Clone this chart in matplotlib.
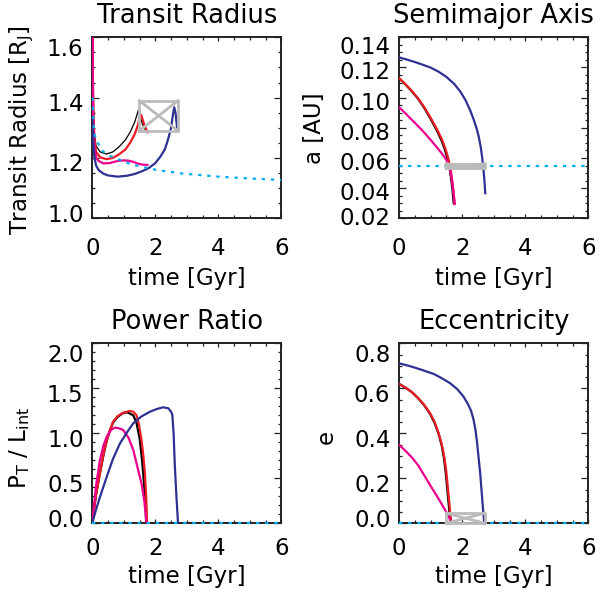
import matplotlib
matplotlib.use("Agg")
import matplotlib.pyplot as plt
from matplotlib.ticker import MultipleLocator
from matplotlib.transforms import ScaledTranslation

# ---- Transit radius [R_J] vs time [Gyr]
tR_black = [0.012, 0.02, 0.04, 0.07, 0.12, 0.25, 0.45, 0.65, 0.85, 1.05, 1.2, 1.35, 1.46, 1.52, 1.6, 1.7]
R_black = [1.65, 1.46, 1.35, 1.28, 1.24, 1.22, 1.213, 1.22, 1.237, 1.26, 1.285, 1.32, 1.358, 1.335, 1.31, 1.29]
tR_red = [0.012, 0.02, 0.04, 0.07, 0.12, 0.25, 0.45, 0.65, 0.85, 1.05, 1.2, 1.35, 1.45, 1.52, 1.56, 1.65, 1.75]
R_red = [1.65, 1.45, 1.33, 1.26, 1.22, 1.202, 1.196, 1.2, 1.212, 1.228, 1.25, 1.28, 1.31, 1.345, 1.34, 1.31, 1.285]
tR_pink = [0.015, 0.02, 0.03, 0.05, 0.08, 0.13, 0.2, 0.35, 0.55, 0.8, 1.0, 1.15, 1.3, 1.45, 1.6, 1.75]
R_pink = [1.65, 1.45, 1.33, 1.265, 1.225, 1.2, 1.19, 1.182, 1.183, 1.19, 1.192, 1.191, 1.187, 1.181, 1.178, 1.177]
tR_blue = [0.0, 0.03, 0.07, 0.12, 0.2, 0.35, 0.5, 0.8, 1.1, 1.35, 1.6, 1.8, 2.0, 2.15, 2.3, 2.4, 2.5, 2.56, 2.6, 2.64, 2.67, 2.7]
R_blue = [1.33, 1.25, 1.2, 1.175, 1.16, 1.148, 1.142, 1.138, 1.141, 1.147, 1.157, 1.167, 1.183, 1.203, 1.228, 1.26, 1.3, 1.345, 1.368, 1.35, 1.32, 1.293]
tR_cyan = [0.01, 0.03, 0.06, 0.14, 0.24, 0.35, 0.6, 1.0, 1.3, 2.0, 2.8, 4.0, 5.0, 6.0]
R_cyan = [1.40, 1.34, 1.28, 1.26, 1.237, 1.221, 1.205, 1.188, 1.177, 1.161, 1.149, 1.138, 1.132, 1.127]
boxR_t = [1.49, 2.72]
boxR_y = [1.29, 1.39]

# ---- Semimajor axis [AU]
ta_black = [0.0, 0.2, 0.4, 0.6, 0.8, 1.0, 1.2, 1.35, 1.45, 1.53, 1.6, 1.65, 1.69, 1.73]
a_black = [0.1128, 0.1087, 0.1042, 0.0992, 0.0930, 0.0858, 0.0780, 0.0712, 0.0655, 0.0595, 0.0530, 0.0460, 0.0390, 0.0300]
ta_red = [0.0, 0.2, 0.4, 0.6, 0.8, 1.0, 1.2, 1.35, 1.47, 1.56, 1.63, 1.68, 1.72, 1.76]
a_red = [0.1128, 0.1088, 0.1044, 0.0995, 0.0935, 0.0865, 0.0790, 0.0725, 0.0660, 0.0595, 0.0530, 0.0450, 0.0380, 0.0295]
ta_pink = [0.0, 0.2, 0.4, 0.6, 0.8, 1.0, 1.2, 1.35, 1.47, 1.55, 1.61, 1.66, 1.70, 1.73, 1.76]
a_pink = [0.0936, 0.0895, 0.0853, 0.0811, 0.0767, 0.0719, 0.0669, 0.0630, 0.0596, 0.0565, 0.0525, 0.0470, 0.0410, 0.0360, 0.0295]
ta_blue = [0.0, 0.25, 0.5, 0.75, 1.0, 1.25, 1.5, 1.75, 1.94, 2.1, 2.25, 2.35, 2.45, 2.52, 2.58, 2.63, 2.67, 2.70, 2.73]
a_blue = [0.1267, 0.1252, 0.1236, 0.1218, 0.1199, 0.1172, 0.1137, 0.1090, 0.1040, 0.0985, 0.0917, 0.0862, 0.0800, 0.0745, 0.0680, 0.0608, 0.0530, 0.0460, 0.0366]
ta_cyan = [0.0, 6.0]
a_cyan = [0.055, 0.055]
boxa_t = [1.48, 2.73]
boxa_y = [0.0535, 0.0562]

# ---- Power ratio P_T / L_int
tP_black = [0.0, 0.06, 0.12, 0.24, 0.35, 0.46, 0.56, 0.66, 0.8, 0.95, 1.1, 1.3, 1.4, 1.5, 1.58, 1.64, 1.69, 1.71]
P_black = [0.0, 0.17, 0.32, 0.55, 0.75, 0.92, 1.03, 1.12, 1.18, 1.22, 1.235, 1.2, 1.12, 0.95, 0.7, 0.45, 0.2, 0.0]
tP_red = [0.0, 0.06, 0.12, 0.24, 0.35, 0.46, 0.56, 0.66, 0.8, 0.98, 1.19, 1.3, 1.4, 1.48, 1.56, 1.62, 1.67, 1.71, 1.74]
P_red = [0.0, 0.17, 0.32, 0.556, 0.76, 0.926, 1.04, 1.129, 1.19, 1.229, 1.248, 1.24, 1.203, 1.1, 0.926, 0.75, 0.556, 0.3, 0.0]
tP_pink = [0.0, 0.06, 0.12, 0.24, 0.35, 0.46, 0.6, 0.72, 0.85, 0.98, 1.15, 1.3, 1.45, 1.56, 1.65, 1.72]
P_pink = [0.0, 0.22, 0.42, 0.70, 0.86, 0.963, 1.04, 1.063, 1.055, 1.037, 0.95, 0.815, 0.6, 0.444, 0.25, 0.0]
tP_blue = [0.0, 0.1, 0.25, 0.46, 0.65, 0.88, 1.1, 1.3, 1.55, 1.83, 2.05, 2.25, 2.41, 2.5, 2.54, 2.58, 2.62, 2.67, 2.72]
P_blue = [0.0, 0.13, 0.3, 0.518, 0.71, 0.889, 1.01, 1.111, 1.185, 1.24, 1.27, 1.289, 1.278, 1.24, 1.203, 1.0, 0.63, 0.3, 0.0]
tP_cyan = [0.0, 6.0]
P_cyan = [0.0, 0.0]

# ---- Eccentricity
te_black = [0.0, 0.2, 0.4, 0.6, 0.8, 0.98, 1.12, 1.25, 1.35, 1.42, 1.48, 1.53, 1.57, 1.61, 1.63]
e_black = [0.619, 0.603, 0.583, 0.556, 0.523, 0.486, 0.447, 0.397, 0.345, 0.290, 0.220, 0.145, 0.085, 0.025, 0.0]
te_red = [0.0, 0.2, 0.4, 0.6, 0.8, 0.98, 1.12, 1.25, 1.35, 1.43, 1.49, 1.54, 1.58, 1.62, 1.65, 1.67]
e_red = [0.619, 0.603, 0.583, 0.557, 0.525, 0.489, 0.452, 0.400, 0.352, 0.296, 0.235, 0.163, 0.105, 0.044, 0.012, 0.0]
te_pink = [0.0, 0.2, 0.4, 0.6, 0.8, 1.0, 1.2, 1.35, 1.5, 1.6, 1.67]
e_pink = [0.348, 0.322, 0.293, 0.258, 0.212, 0.165, 0.120, 0.085, 0.048, 0.020, 0.0]
te_blue = [0.0, 0.3, 0.56, 0.8, 1.09, 1.35, 1.62, 1.85, 2.04, 2.18, 2.28, 2.36, 2.42, 2.47, 2.52, 2.57, 2.61, 2.65, 2.68, 2.70]
e_blue = [0.711, 0.700, 0.689, 0.678, 0.664, 0.645, 0.622, 0.595, 0.563, 0.530, 0.500, 0.460, 0.415, 0.360, 0.290, 0.222, 0.150, 0.080, 0.030, 0.0]
te_cyan = [0.0, 6.0]
e_cyan = [0.0, 0.0]
boxe_t = [1.49, 2.71]
boxe_y = [0.0, 0.045]

BLUE = "#2E3192"
RED = "#ED1C24"
PINK = "#EC008C"
CYAN = "#00AEEF"
GRAY = "#BBBBBB"
AXC = "#222222"
FS = 16.5

plt.rcParams['font.family'] = ['DejaVu Sans']
plt.rcParams['mathtext.fontset'] = 'dejavusans'

fig = plt.figure(figsize=(6.08, 6.01), dpi=100)


def box(ax, bt, by):
    t0, t1 = bt
    y0, y1 = by
    ax.plot([t0, t1, t1, t0, t0], [y0, y0, y1, y1, y0], color=GRAY, lw=2, clip_on=False, zorder=5)
    ax.plot([t0, t1], [y0, y1], color=GRAY, lw=2, clip_on=False, zorder=5)
    ax.plot([t0, t1], [y1, y0], color=GRAY, lw=2, clip_on=False, zorder=5)


def curves(ax, black, red, pink, blue, black_lw=1.6):
    ax.plot(*black, color='black', lw=black_lw, zorder=3)
    ax.plot(*red, color=RED, lw=1.6, zorder=3)
    ax.plot(*pink, color=PINK, lw=1.6, zorder=3)
    ax.plot(*blue, color=BLUE, lw=1.6, zorder=3)


def style(ax, title, ylabel, ylim, ymajor, yminor, ylab_xy, xlab_y, xpad, shifts=(5.5, -4.5, -9.5)):
    ax.set_xlim(0, 6)
    ax.set_ylim(*ylim)
    ax.set_xticks([0, 2, 4, 6])
    ax.xaxis.set_minor_locator(MultipleLocator(0.5))
    ax.set_yticks(ymajor)
    ax.yaxis.set_minor_locator(MultipleLocator(yminor))
    for s in ax.spines.values():
        s.set_linewidth(1.4)
        s.set_color(AXC)
    ax.tick_params(which='both', direction='in', top=True, right=True,
                   labelsize=FS, color=AXC, width=0.9)
    ax.tick_params(axis='x', which='major', length=2.8, pad=xpad)
    ax.tick_params(axis='x', which='minor', length=2.5)
    ax.tick_params(axis='y', which='major', length=5, pad=6.3)
    ax.tick_params(axis='y', which='minor', length=2.5)
    ax.set_title(title, fontsize=18.5, pad=10)
    ax.set_xlabel('time [Gyr]', fontsize=FS, va='center')
    ax.xaxis.set_label_coords(0.5, xlab_y)
    ax.set_ylabel(ylabel, fontsize=FS, va='center')
    ax.yaxis.set_label_coords(*ylab_xy)
    # IDL-style tick labels: sit a little low, end labels pulled inside
    ticks = ax.yaxis.get_major_ticks()
    n = len(ticks)
    for i, tk in enumerate(ticks):
        if i == 0:
            dy = shifts[0]
        elif i == n - 1:
            dy = shifts[2]
        else:
            dy = shifts[1]
        lab = tk.label1
        lab.set_transform(lab.get_transform() + ScaledTranslation(0, dy / 100.0, fig.dpi_scale_trans))


W = 0.311
ax1 = fig.add_axes([0.1518, 0.6368, W, 0.3011])
ax2 = fig.add_axes([0.6566, 0.6368, W, 0.3011])
ax3 = fig.add_axes([0.1518, 0.1293, W, 0.2995])
ax4 = fig.add_axes([0.6566, 0.1293, W, 0.2995])

dots = dict(color=CYAN, lw=1.6, linestyle=(0, (1.5, 2.6)), zorder=4)

# Transit radius
curves(ax1, (tR_black, R_black), (tR_red, R_red), (tR_pink, R_pink), (tR_blue, R_blue), black_lw=0.9)
ax1.plot(tR_cyan, R_cyan, **dots)
box(ax1, boxR_t, boxR_y)
style(ax1, 'Transit Radius', r'Transit Radius [R$_\mathrm{J}$]', (1.0, 1.6),
      [1.0, 1.2, 1.4, 1.6], 0.05, (-0.374, 0.488), -0.335, 13.5)
ax1.set_yticklabels(['1.0', '1.2', '1.4', '1.6'])

# Semimajor axis
curves(ax2, (ta_black, a_black), (ta_red, a_red), (ta_pink, a_pink), (ta_blue, a_blue))
ax2.plot(ta_cyan, a_cyan, **dots)
box(ax2, boxa_t, boxa_y)
style(ax2, 'Semimajor Axis', 'a [AU]', (0.02, 0.14),
      [0.02, 0.04, 0.06, 0.08, 0.10, 0.12, 0.14], 0.005, (-0.45, 0.5), -0.335, 13.5,
      shifts=(2.0, -3.0, -8.0))
ax2.set_yticklabels(['0.02', '0.04', '0.06', '0.08', '0.10', '0.12', '0.14'])

# Power ratio
curves(ax3, (tP_black, P_black), (tP_red, P_red), (tP_pink, P_pink), (tP_blue, P_blue))
ax3.plot(tP_cyan, P_cyan, clip_on=False, **dots)
style(ax3, 'Power Ratio', r'P$_\mathrm{T}$ / L$_\mathrm{int}$', (0.0, 2.0),
      [0.0, 0.5, 1.0, 1.5, 2.0], 0.1, (-0.386, 0.42), -0.297, 10)
ax3.set_yticklabels(['0.0', '0.5', '1.0', '1.5', '2.0'])

# Eccentricity
curves(ax4, (te_black, e_black), (te_red, e_red), (te_pink, e_pink), (te_blue, e_blue))
ax4.plot(te_cyan, e_cyan, clip_on=False, **dots)
box(ax4, boxe_t, boxe_y)
style(ax4, 'Eccentricity', 'e', (0.0, 0.8),
      [0.0, 0.2, 0.4, 0.6, 0.8], 0.05, (-0.386, 0.482), -0.297, 10)
ax4.set_yticklabels(['0.0', '0.2', '0.4', '0.6', '0.8'])

fig.savefig('out.png', dpi=100)
